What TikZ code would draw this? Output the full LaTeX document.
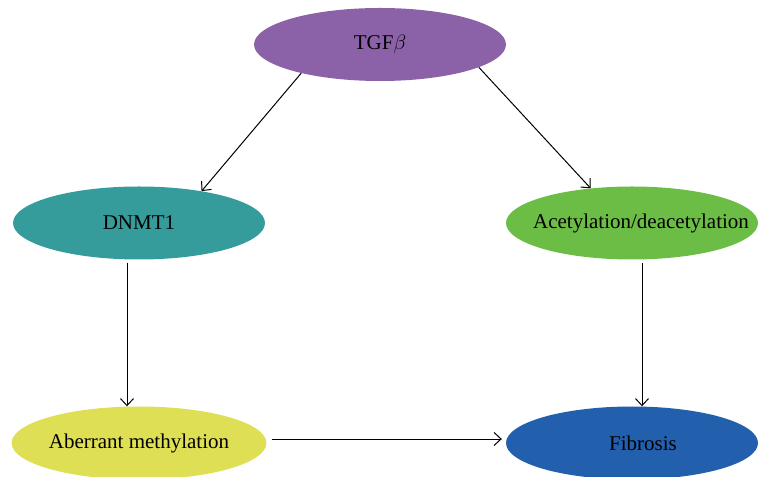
\documentclass[tikz,border=0pt]{standalone}
\usepackage{fontspec}
\setmainfont{Liberation Serif}
\usetikzlibrary{shapes.geometric, arrows.meta}
\definecolor{tgfcol}{RGB}{139,98,168}
\definecolor{dnmtcol}{RGB}{53,156,155}
\definecolor{acetcol}{RGB}{108,189,69}
\definecolor{abercol}{RGB}{222,223,85}
\definecolor{fibcol}{RGB}{34,96,173}
\begin{document}
\begin{tikzpicture}[x=1pt, y=1pt, >={Straight Barb[length=7pt, width=13pt]},
  blob/.style={ellipse, minimum width=252pt, minimum height=73pt, inner sep=0pt,
    font=\fontsize{21}{24}\selectfont},
  link/.style={->, line width=1pt}]
\useasboundingbox (0,0) rectangle (759,476);
\node[blob, fill=tgfcol] (tgf) at (380,431.5) {TGF$\beta$};
\node[blob, fill=dnmtcol] (dnmt) at (139,253) {DNMT1};
\node[blob, fill=acetcol] (acet) at (632,253) {\makebox[0pt]{\hspace{18pt}Acetylation/deacetylation}};
\node[blob, fill=abercol] (aber) at (139,33) {Aberrant methylation};
\node[blob, fill=fibcol] (fib) at (632,33) {\makebox[0pt]{\hspace{22pt}Fibrosis}};
\draw[link] (tgf.200) -- (dnmt.27);
\draw[link] (tgf.347) -- (acet.140);
\draw[link] ([xshift=-12pt, yshift=-3pt]dnmt.south) -- ([xshift=-12pt]aber.north);
\draw[link] ([xshift=10pt, yshift=-3pt]acet.south) -- ([xshift=10pt]fib.north);
\draw[link] ([xshift=5pt, yshift=4pt]aber.east) -- ([xshift=-4pt, yshift=4pt]fib.west);
\end{tikzpicture}
\end{document}
